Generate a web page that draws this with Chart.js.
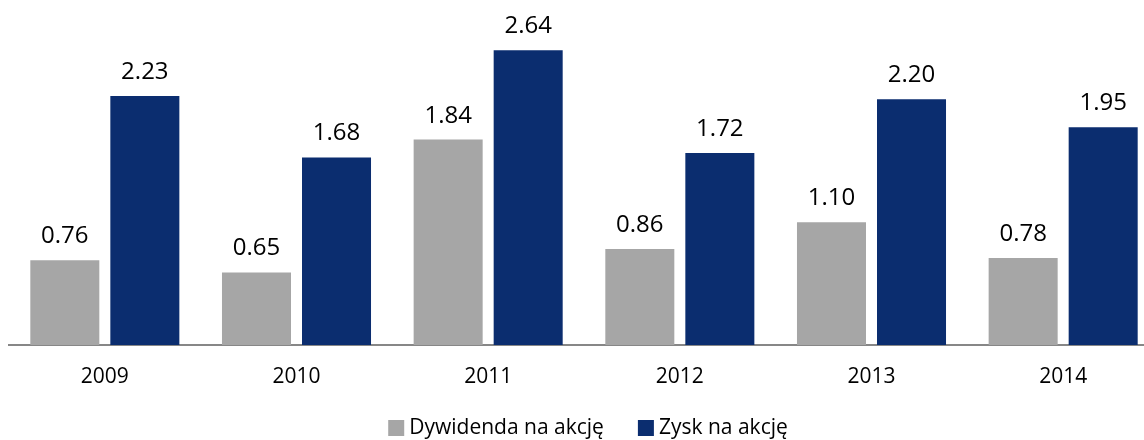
<!DOCTYPE html>
<html>
<head>
<meta charset="utf-8">
<script src="https://cdn.jsdelivr.net/npm/chart.js@4/dist/chart.umd.min.js"></script>
<style>
  html, body { margin: 0; padding: 0; background: #fff; overflow: hidden; }
  #wrap { width: 1144px; height: 440px; overflow: hidden; }
  canvas { display: block; }
</style>
</head>
<body>
<div id="wrap"><canvas id="c" width="1176" height="440"></canvas></div>
<script>
const years = ['2009', '2010', '2011', '2012', '2013', '2014'];
const dividendPerShare = [0.76, 0.65, 1.84, 0.86, 1.10, 0.78];
const earningsPerShare = [2.23, 1.68, 2.64, 1.72, 2.20, 1.95];
const seriesNames = ['Dywidenda na akcję', 'Zysk na akcję'];
const seriesColors = ['#A6A6A6', '#0B2D6F'];

const FONT = '"Open Sans", "Liberation Sans", sans-serif';

// Writes each bar's value above it
const valueLabels = {
  id: 'valueLabels',
  afterDatasetsDraw(chart) {
    const ctx = chart.ctx;
    ctx.save();
    ctx.font = '24px ' + FONT;
    ctx.fillStyle = '#000';
    ctx.textAlign = 'center';
    ctx.textBaseline = 'alphabetic';
    chart.data.datasets.forEach((ds, i) => {
      chart.getDatasetMeta(i).data.forEach((bar, j) => {
        ctx.fillText(ds.data[j].toFixed(2), bar.x, bar.y - 17);
      });
    });
    ctx.restore();
  }
};

// Compact legend row under the axis: square swatch, small gap, series name
const bottomLegend = {
  id: 'bottomLegend',
  afterDraw(chart) {
    const ctx = chart.ctx;
    const box = 16, gap = 5, itemGap = 34, cy = 428, centerX = 588;
    ctx.save();
    ctx.font = '21px ' + FONT;
    const items = chart.data.datasets.map(ds => ({
      text: ds.label, color: ds.backgroundColor, w: ctx.measureText(ds.label).width
    }));
    const total = items.reduce((s, it) => s + box + gap + it.w, 0) + itemGap * (items.length - 1);
    let x = centerX - total / 2;
    ctx.textBaseline = 'middle';
    ctx.textAlign = 'left';
    items.forEach(it => {
      ctx.fillStyle = it.color;
      ctx.fillRect(x, cy - box / 2, box, box);
      x += box + gap;
      ctx.fillStyle = '#000';
      ctx.fillText(it.text, x, cy);
      x += it.w + itemGap;
    });
    ctx.restore();
  }
};

new Chart(document.getElementById('c'), {
  type: 'bar',
  data: {
    labels: years,
    datasets: [
      { label: seriesNames[0], data: dividendPerShare, backgroundColor: seriesColors[0] },
      { label: seriesNames[1], data: earningsPerShare, backgroundColor: seriesColors[1] }
    ]
  },
  options: {
    responsive: false,
    animation: false,
    layout: { padding: { left: 9, right: 17, top: 10, bottom: 40 } },
    datasets: { bar: { categoryPercentage: 0.835, barPercentage: 0.8625 } },
    scales: {
      x: {
        grid: { display: false, drawTicks: false },
        border: { display: true, color: '#878787', width: 2 },
        ticks: { color: '#000', font: { family: FONT, size: 21 }, padding: 19 },
        afterFit(scale) { scale.height = 55; }
      },
      y: { display: false, min: 0, max: 3 }
    },
    plugins: {
      legend: { display: false },
      tooltip: { enabled: false }
    }
  },
  plugins: [valueLabels, bottomLegend]
});
</script>
</body>
</html>
